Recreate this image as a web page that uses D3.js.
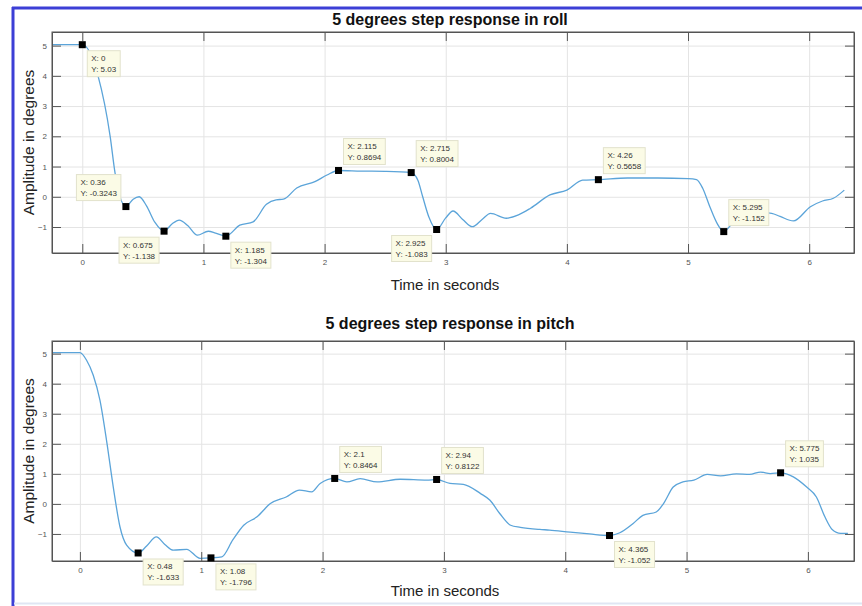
<!DOCTYPE html>
<html lang="en">
<head>
  <meta charset="UTF-8">
  <title>Step response</title>
  <script src="https://d3js.org/d3.v7.min.js"></script>
  <style>
    body { margin: 0; background: #fff; }
    svg { font-family: "Liberation Sans", Arial, Helvetica, sans-serif; display: block; }
    .tick text { font-size: 8px; fill: #555; }
    .axis path, .axis line { stroke: #555; }
    .grid line { stroke: #e4e4e4; }
    .grid path { display: none; }
    .tip rect { fill: #fbfbe6; stroke: #e2e2cc; }
    .tip text { font-size: 8px; fill: #333; }
  </style>
</head>
<body>
  <svg id="chart" width="862" height="606"></svg>

  <script>
    // data
    const xTicks = [0, 1, 2, 3, 4, 5, 6];
    const yTicks = [-1, 0, 1, 2, 3, 4, 5];

    const rollTime = [-0.25, 0, 0.13, 0.23, 0.27, 0.36, 0.42, 0.47, 0.53, 0.6, 0.675, 0.74, 0.8, 0.87, 0.95, 1.04, 1.1, 1.185,
      1.3, 1.41, 1.52, 1.6, 1.66, 1.77, 1.92, 2.02, 2.115, 2.3, 2.5, 2.715, 2.77, 2.81, 2.86, 2.925, 3.0, 3.06, 3.14, 3.22,
      3.3, 3.37, 3.5, 3.6, 3.7, 3.86, 4.0, 4.13, 4.26, 4.5, 4.75, 5.0, 5.07, 5.12, 5.18, 5.24, 5.295, 5.35, 5.42, 5.5, 5.6,
      5.69, 5.76, 5.87, 6.01, 6.11, 6.2, 6.29];
    const rollValue = [5.03, 5.03, 4.0, 2.0, 0.8, -0.3243, -0.08, 0.0, -0.3, -0.85, -1.138, -0.9, -0.77, -0.95, -1.27, -1.14, -1.2, -1.304,
      -0.94, -0.83, -0.25, -0.1, -0.08, 0.29, 0.5, 0.72, 0.8694, 0.85, 0.84, 0.8004, 0.55, 0.0, -0.66, -1.083, -0.7, -0.47, -0.75, -0.99,
      -0.75, -0.55, -0.71, -0.6, -0.38, 0.06, 0.22, 0.55, 0.5658, 0.62, 0.62, 0.6, 0.57, 0.29, -0.33, -0.88, -1.152, -0.95, -0.6, -0.5, -0.52,
      -0.55, -0.65, -0.8, -0.33, -0.14, -0.05, 0.22];

    const pitchTime = [-0.23, 0, 0.055, 0.11, 0.165, 0.22, 0.275, 0.33, 0.385, 0.48, 0.55, 0.63, 0.7, 0.77, 0.88, 0.99, 1.08, 1.17,
      1.26, 1.35, 1.46, 1.57, 1.7, 1.81, 1.91, 1.98, 2.1, 2.2, 2.31, 2.45, 2.64, 2.86, 2.94, 3.05, 3.16, 3.3, 3.38, 3.46, 3.55,
      3.63, 3.79, 3.87, 4.04, 4.2, 4.365, 4.45, 4.56, 4.64, 4.75, 4.81, 4.89, 4.97, 5.06, 5.17, 5.28, 5.41, 5.52, 5.61, 5.69,
      5.775, 5.88, 5.99, 6.07, 6.14, 6.2, 6.27, 6.33];
    const pitchValue = [5.03, 5.03, 4.78, 4.28, 3.45, 2.1, 0.56, -0.76, -1.37, -1.633, -1.4, -1.1, -1.35, -1.54, -1.51, -1.81, -1.796, -1.76,
      -1.2, -0.71, -0.43, 0.01, 0.23, 0.46, 0.4, 0.68, 0.8464, 0.73, 0.84, 0.73, 0.82, 0.79, 0.8122, 0.68, 0.65, 0.35, 0.12, -0.32, -0.71,
      -0.78, -0.85, -0.87, -0.94, -1.0, -1.052, -0.96, -0.65, -0.38, -0.27, 0.01, 0.56, 0.73, 0.79, 0.98, 0.93, 1.0, 0.98, 1.06, 1.01,
      1.035, 0.9, 0.56, 0.23, -0.43, -0.85, -0.98, -0.98];

    // data tips: [x label, y label]
    const rollTips = [["0", "5.03"], ["0.36", "-0.3243"], ["0.675", "-1.138"], ["1.185", "-1.304"], ["2.115", "0.8694"],
      ["2.715", "0.8004"], ["2.925", "-1.083"], ["4.26", "0.5658"], ["5.295", "-1.152"]];
    const pitchTips = [["0.48", "-1.633"], ["1.08", "-1.796"], ["2.1", "0.8464"], ["2.94", "0.8122"], ["4.365", "-1.052"],
      ["5.775", "1.035"]];

    // where each tip box sits relative to its marker
    const rollTipSides = ["br", "tl", "bl", "br", "tr", "tr", "bl", "tr", "tr"];
    const pitchTipSides = ["br", "br", "tr", "tr", "br", "tr"];

    const svg = d3.select("#chart");

    // frame of the original window
    svg.append("line").attr("x1", 13).attr("x2", 13).attr("y1", 7).attr("y2", 606)
      .attr("stroke", "#3c3fd6").attr("stroke-width", 3);
    svg.append("line").attr("x1", 12).attr("x2", 862).attr("y1", 8).attr("y2", 8)
      .attr("stroke", "#3c3fd6").attr("stroke-width", 3);
    svg.append("line").attr("x1", 14).attr("x2", 862).attr("y1", 603.5).attr("y2", 603.5)
      .attr("stroke", "#dfe6f3").attr("stroke-width", 2);

    function drawPanel(opt) {
      const { left, right, top, bottom, xDomain, yDomain, times, values, tips, sides, title, titleY, xLabelY } = opt;
      const x = d3.scaleLinear().domain(xDomain).range([left, right]);
      const y = d3.scaleLinear().domain(yDomain).range([bottom, top]);
      const g = svg.append("g");

      // grid
      g.append("g").attr("class", "grid")
        .attr("transform", `translate(0,${bottom})`)
        .call(d3.axisBottom(x).tickValues(xTicks).tickSize(-(bottom - top)).tickFormat(""));
      g.append("g").attr("class", "grid")
        .attr("transform", `translate(${left},0)`)
        .call(d3.axisLeft(y).tickValues(yTicks).tickSize(-(right - left)).tickFormat(""));

      // line
      const pts = times.map((t, i) => [t, values[i]]);
      g.append("path")
        .datum(pts)
        .attr("fill", "none")
        .attr("stroke", "#5ba4d9")
        .attr("stroke-width", 1.3)
        .attr("d", d3.line().x(d => x(d[0])).y(d => y(d[1])).curve(d3.curveMonotoneX));

      // axes, ticks pointing inwards like matlab
      g.append("g").attr("class", "axis")
        .attr("transform", `translate(0,${bottom})`)
        .call(d3.axisBottom(x).tickValues(xTicks).tickFormat(d3.format("d")).tickSize(-9).tickSizeOuter(0).tickPadding(6));
      g.append("g").attr("class", "axis")
        .attr("transform", `translate(0,${top})`)
        .call(d3.axisTop(x).tickValues(xTicks).tickSize(-9).tickSizeOuter(0).tickFormat(""));
      g.append("g").attr("class", "axis")
        .attr("transform", `translate(${left},0)`)
        .call(d3.axisLeft(y).tickValues(yTicks).tickFormat(d3.format("d")).tickSize(-9).tickSizeOuter(0).tickPadding(5));
      g.append("g").attr("class", "axis")
        .attr("transform", `translate(${right},0)`)
        .call(d3.axisRight(y).tickValues(yTicks).tickSize(-9).tickSizeOuter(0).tickFormat(""));

      g.append("rect")
        .attr("x", left).attr("y", top)
        .attr("width", right - left).attr("height", bottom - top)
        .attr("fill", "none").attr("stroke", "#555");

      // data tips
      tips.forEach((tip, i) => {
        const px = x(+tip[0]);
        const py = y(+tip[1]);
        const tg = g.append("g").attr("class", "tip");
        const rect = tg.append("rect").attr("height", 26);
        const t1 = tg.append("text").text(`X: ${tip[0]}`);
        const t2 = tg.append("text").text(`Y: ${tip[1]}`);
        const w = Math.max(t1.node().getComputedTextLength(), t2.node().getComputedTextLength()) + 8;
        const side = sides[i];
        const bx = side[1] === "r" ? px + 5 : px - 5 - w;
        const by = side[0] === "b" ? py + 6 : py - 6 - 26;
        rect.attr("x", bx).attr("y", by).attr("width", w);
        t1.attr("x", bx + 4).attr("y", by + 10.5);
        t2.attr("x", bx + 4).attr("y", by + 21.5);
        g.append("rect")
          .attr("x", px - 3.5).attr("y", py - 3.5)
          .attr("width", 7).attr("height", 7)
          .attr("fill", "#000");
      });

      // labels
      svg.append("text")
        .attr("x", 450).attr("y", titleY)
        .attr("text-anchor", "middle")
        .attr("font-size", 16).attr("font-weight", "bold").attr("fill", "#111")
        .text(title);
      svg.append("text")
        .attr("x", 445).attr("y", xLabelY)
        .attr("text-anchor", "middle")
        .attr("font-size", 15).attr("fill", "#222")
        .text("Time in seconds");
      svg.append("text")
        .attr("transform", `translate(34,${(top + bottom) / 2}) rotate(-90)`)
        .attr("text-anchor", "middle")
        .attr("font-size", 15.5).attr("fill", "#222")
        .text("Amplitude in degrees");
    }

    drawPanel({
      left: 52, right: 854, top: 32, bottom: 253,
      xDomain: [-0.25, 6.37], yDomain: [-1.86, 5.45],
      times: rollTime, values: rollValue,
      tips: rollTips, sides: rollTipSides,
      title: "5 degrees step response in roll", titleY: 25, xLabelY: 290
    });

    drawPanel({
      left: 52, right: 854, top: 341, bottom: 561,
      xDomain: [-0.23, 6.38], yDomain: [-1.9, 5.42],
      times: pitchTime, values: pitchValue,
      tips: pitchTips, sides: pitchTipSides,
      title: "5 degrees step response in pitch", titleY: 329, xLabelY: 596
    });
  </script>
</body>
</html>
